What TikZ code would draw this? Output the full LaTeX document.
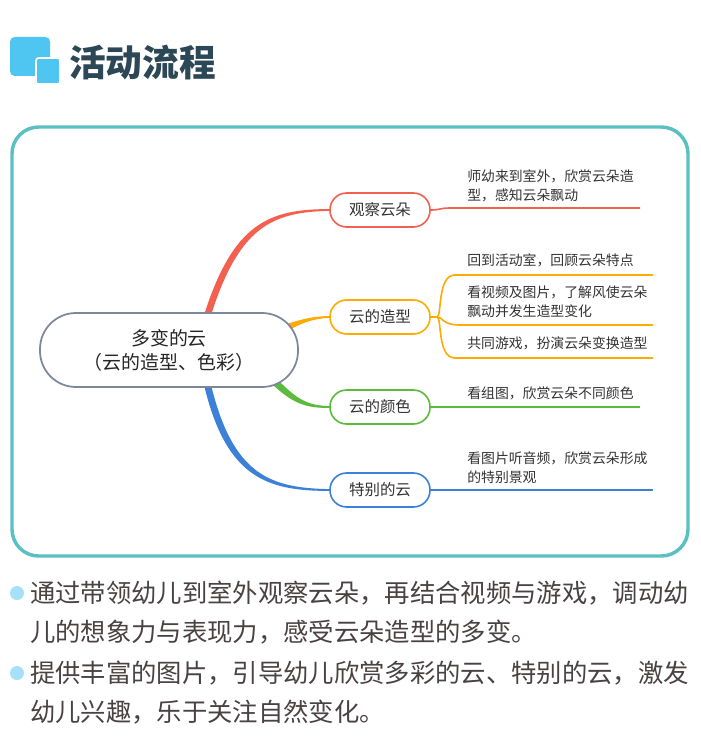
\documentclass[tikz,border=0pt]{standalone}
\usepackage{fontspec}
\setmainfont{Noto Sans CJK SC}
\usetikzlibrary{calc,backgrounds}
\definecolor{iconblue}{HTML}{4FC6F2}
\definecolor{titlecol}{HTML}{2C4756}
\definecolor{framecol}{HTML}{5BC0C4}
\definecolor{centercol}{HTML}{7C879A}
\definecolor{redc}{HTML}{F3604F}
\definecolor{orangec}{HTML}{FFAA00}
\definecolor{greenc}{HTML}{5CBB3C}
\definecolor{bluec}{HTML}{3C80D8}
\definecolor{leaftext}{HTML}{333333}
\definecolor{bodytext}{HTML}{4A4242}
\definecolor{dotcol}{HTML}{A6E0FA}
\begin{document}
\begin{tikzpicture}[x=0.75pt,y=-0.75pt,
  centerbox/.style={draw=centercol, line width=1.3pt, fill=white, rounded corners=27pt,
    minimum width=193.5pt, minimum height=55.5pt, align=center, inner sep=0pt,
    font=\fontsize{14.2}{18}\selectfont, text=black!85},
  branchbox/.style={draw=#1, line width=1.2pt, fill=white, rounded corners=12.5pt,
    minimum width=75pt, minimum height=25.5pt, inner sep=0pt,
    font=\fontsize{11.6}{14}\selectfont, text=black!80},
  leaf/.style={anchor=west, align=left, inner sep=0pt,
    font=\fontsize{10.4}{14.25}\selectfont, text=leaftext},
  leafline/.style={draw=#1, line width=1.2pt},
  bodyline/.style={anchor=west, align=left, inner sep=0pt,
    font=\fontsize{19}{29.25}\selectfont, text=bodytext},
  dot/.style={circle, fill=dotcol, minimum size=10.5pt, inner sep=0pt}
]
\useasboundingbox (0,0) rectangle (700,756);

% title icon
\fill[iconblue, rounded corners=3.5pt] (10,37) rectangle (50,76);
\filldraw[iconblue, draw=white, line width=1.2pt, rounded corners=2pt] (36,58) rectangle (60,84);
\node[anchor=west, inner sep=0pt, font=\fontsize{27.5}{30}\selectfont\bfseries, text=titlecol] (title) at (69,63) {活动流程};

% frame
\draw[framecol, line width=2.6pt, rounded corners=20pt] (12,127) rectangle (688,556);

% nodes
\node[centerbox] (c) at (169,350) {多变的云\\（云的造型、色彩）};
\node[branchbox=redc] (b1) at (380,210) {观察云朵};
\node[branchbox=orangec] (b2) at (380,317) {云的造型};
\node[branchbox=greenc] (b3) at (380,407) {云的颜色};
\node[branchbox=bluec] (b4) at (380,490) {特别的云};

% tapered main connectors, behind the nodes
\begin{pgfonlayer}{background}
\fill[white] (0,0) rectangle (700,756);
\fill[redc] ($(c.north)+(35,3)$) .. controls (233,224) and (268,209) .. ($(b1.west)+(0,-0.9)$)
   -- ($(b1.west)+(0,0.9)$) .. controls (272,212) and (239,227) .. ($(c.north)+(42,3)$) -- cycle;
\fill[bluec] ($(c.south)+(35,-3)$) .. controls (226,477) and (266,491) .. ($(b4.west)+(0,0.9)$)
   -- ($(b4.west)+(0,-0.9)$) .. controls (270,488) and (233,475) .. ($(c.south)+(42,-3)$) -- cycle;
\fill[orangec] ($(c.east)+(-12,-26)$) .. controls (302,319) and (314,316.2) .. ($(b2.west)+(0,-0.9)$)
   -- ($(b2.west)+(0,0.9)$) .. controls (315,318.5) and (304,322) .. ($(c.east)+(-8,-21)$) -- cycle;
\fill[greenc] ($(c.east)+(-28,33)$) .. controls (292,403) and (305,408.2) .. ($(b3.west)+(0,0.9)$)
   -- ($(b3.west)+(0,-0.9)$) .. controls (307,405.5) and (297,399) .. ($(c.east)+(-21,30)$) -- cycle;
\end{pgfonlayer}

% leaf lines
\coordinate (e1) at (640,208);
\coordinate (e2a) at (653,275);
\coordinate (e2b) at (653,325);
\coordinate (e2c) at (653,358);
\coordinate (e3) at (640,407);
\coordinate (e4) at (653,490);
\coordinate (j) at (437,317);

\draw[leafline=redc] (b1.east) .. controls (440,210) and (440,208) .. (450,208) -- (e1);
\draw[leafline=orangec] (b2.east) -- (j);
\draw[leafline=orangec] (j) .. controls (442,317) and (437,275) .. (455,275) -- (e2a);
\draw[leafline=orangec] (j) .. controls (443,317) and (442,325) .. (460,325) -- (e2b);
\draw[leafline=orangec] (j) .. controls (442,317) and (437,358) .. (455,358) -- (e2c);
\draw[leafline=greenc] (b3.east) -- (e3);
\draw[leafline=bluec] (b4.east) -- (e4);

% leaf texts
\node[leaf] (t1) at (467,185.5) {师幼来到室外，欣赏云朵造\\型，感知云朵飘动};
\node[leaf] (t2) at (467,260) {回到活动室，回顾云朵特点};
\node[leaf] (t3) at (467,302) {看视频及图片，了解风使云朵\\飘动并发生造型变化};
\node[leaf] (t4) at (467,343) {共同游戏，扮演云朵变换造型};
\node[leaf] (t5) at (467,393) {看组图，欣赏云朵不同颜色};
\node[leaf] (t6) at (467,468) {看图片听音频，欣赏云朵形成\\的特别景观};

% bullets
\node[dot] (d1) at (17,593) {};
\node[dot] (d2) at (17,673) {};
\node[bodyline] (p1) at (30,612.5) {通过带领幼儿到室外观察云朵，再结合视频与游戏，调动幼\\儿的想象力与表现力，感受云朵造型的多变。};
\node[bodyline] (p2) at (30,692.5) {提供丰富的图片，引导幼儿欣赏多彩的云、特别的云，激发\\幼儿兴趣，乐于关注自然变化。};
\end{tikzpicture}
\end{document}
